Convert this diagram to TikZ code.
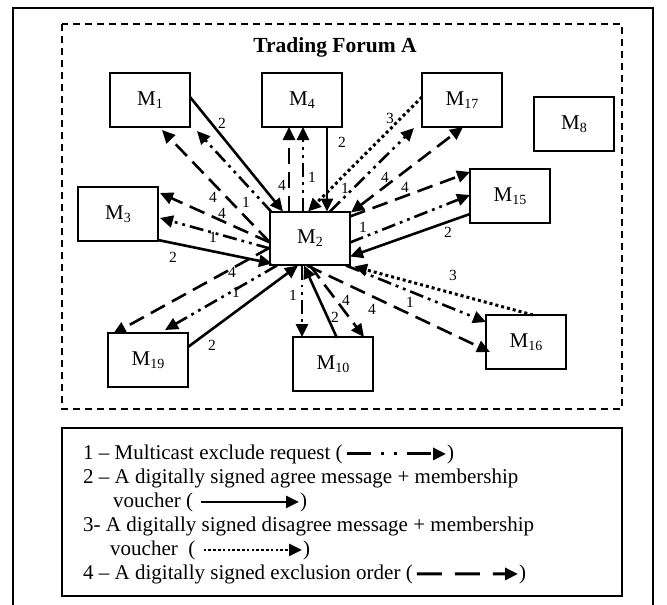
\documentclass[tikz,border=0pt]{standalone}
\usepackage{fontspec}
\setmainfont{Liberation Serif}
\usetikzlibrary{arrows.meta,calc}

% member name with a lowered, smaller index
\newcommand\Msub[1]{M\raisebox{-3pt}{\fontsize{14}{14}\selectfont #1}}

\tikzset{
  >={Triangle[length=13pt,width=12pt]},
  member/.style={draw, line width=1.6pt, minimum width=80pt, minimum height=54pt,
    inner sep=0pt, font=\fontsize{21}{24}\selectfont},
  lbl/.style={font=\fontsize{15.5}{15.5}\selectfont, inner sep=0pt},
  msg/.style={line width=2.6pt, ->},
  req/.style={msg, dash pattern=on 14pt off 5pt on 2.8pt off 5pt on 2.8pt off 5pt},
  agree/.style={msg},
  disagree/.style={msg, line width=3pt, dash pattern=on 3pt off 3pt},
  excl/.style={msg, dash pattern=on 16pt off 8pt},
  legtext/.style={font=\fontsize{21}{24}\selectfont, inner sep=0pt, anchor=base west},
}

\begin{document}
\begin{tikzpicture}[x=1pt,y=-1pt]
  \fill[white] (0,0) rectangle (667,605);
  \useasboundingbox (0,0) rectangle (667,605);

  % outer frame, open at the bottom edge
  \draw[line width=1.4pt] (13,605) -- (13,8) -- (653,8) -- (653,605);
  % forum boundary
  \draw[line width=1.5pt, dash pattern=on 7pt off 5pt] (62,24) rectangle (622,409);
  \node[font=\fontsize{21.5}{24}\selectfont\bfseries] (title) at (335,47) {Trading Forum A};

  % members
  \node[member] (M1)  at (150,100) {\Msub{1}};
  \node[member] (M4)  at (302,100) {\Msub{4}};
  \node[member] (M17) at (462,100) {\Msub{17}};
  \node[member] (M8)  at (574,124) {\Msub{8}};
  \node[member] (M3)  at (118,214) {\Msub{3}};
  \node[member, minimum height=53pt] (M2) at (310,238.5) {\Msub{2}};
  \node[member] (M15) at (510,196) {\Msub{15}};
  \node[member] (M19) at (148,360) {\Msub{19}};
  \node[member] (M10) at (333,364) {\Msub{10}};
  \node[member] (M16) at (526,342) {\Msub{16}};

  % M1
  \draw[agree] ($(M1)+(40,-3)$) -- ($(M2)+(-27,-27)$);
  \draw[req]   ($(M2)+(-38,-26)$) -- ($(M1)+(47,31)$);
  \draw[excl]  ($(M2)+(-40,4)$) -- ($(M1)+(12,30)$);
  % M3
  \draw[excl]  ($(M2)+(-40,4)$) -- ($(M3)+(42,-21)$);
  \draw[req]   ($(M2)+(-40,10)$) -- ($(M3)+(42,4)$);
  \draw[agree] ($(M3)+(40,26)$) -- ($(M2)+(-38,25)$);
  % M4
  \draw[excl]  ($(M2)+(-21,-27)$) -- ($(M4)+(-13,27)$);
  \draw[req]   ($(M2)+(-7,-27)$) -- ($(M4)+(1,27)$);
  \draw[agree] ($(M4)+(25,27)$) -- ($(M2)+(17,-27)$);
  % M17
  \draw[disagree] ($(M17)+(-40,-3)$) -- ($(M2)+(-2,-27)$);
  \draw[req]   ($(M2)+(20,-27)$) -- ($(M17)+(-48,28)$);
  \draw[excl, <->] ($(M2)+(41,-26)$) -- ($(M17)+(1,27)$);
  % M15
  \draw[excl]  ($(M2)+(40,-22)$) -- ($(M15)+(-40,-24)$);
  \draw[req]   ($(M2)+(40,4)$) -- ($(M15)+(-40,-1)$);
  \draw[agree] ($(M15)+(-40,18)$) -- ($(M2)+(40,18)$);
  % M16
  \draw[disagree] ($(M16)+(7,-27)$) -- ($(M2)+(44,28)$);
  \draw[req]   ($(M2)+(36,27)$) -- ($(M16)+(-40,-20)$);
  \draw[excl]  ($(M2)+(-3,27)$) -- ($(M16)+(-36,10)$);
  % M10
  \draw[excl]  ($(M2)+(0,27)$) -- ($(M10)+(31,-27)$);
  \draw[req]   ($(M2)+(-8,27)$) -- ($(M10)+(-31,-27)$);
  \draw[agree] ($(M10)+(4,-26)$) -- ($(M2)+(-6,27)$);
  % M19
  \draw[excl]  ($(M2)+(-40,9)$) -- ($(M19)+(-35,-26)$);
  \draw[req]   ($(M2)+(-33,27)$) -- ($(M19)+(17,-30)$);
  \draw[agree] ($(M19)+(40,-13)$) -- ($(M2)+(-12,27)$);

  % message numbers
  \node[lbl] (t1)  at (222,123) {2};
  \node[lbl] (t2)  at (246,202) {1};
  \node[lbl] (t3)  at (213,197) {4};
  \node[lbl] (t4)  at (222,213) {4};
  \node[lbl] (t5)  at (213,237) {1};
  \node[lbl] (t6)  at (173,257) {2};
  \node[lbl] (t7)  at (282,185) {4};
  \node[lbl] (t8)  at (312,177) {1};
  \node[lbl] (t9)  at (342,142) {2};
  \node[lbl] (t10) at (390,118) {3};
  \node[lbl] (t11) at (345,188) {1};
  \node[lbl] (t12) at (385,177) {4};
  \node[lbl] (t13) at (405,187) {4};
  \node[lbl] (t14) at (363,227) {1};
  \node[lbl] (t15) at (448,232) {2};
  \node[lbl] (t16) at (453,275) {3};
  \node[lbl] (t17) at (410,302) {1};
  \node[lbl] (t18) at (372,309) {4};
  \node[lbl] (t19) at (346,300) {4};
  \node[lbl] (t20) at (293,295) {1};
  \node[lbl] (t21) at (335,317) {2};
  \node[lbl] (t22) at (232,272) {4};
  \node[lbl] (t23) at (236,292) {1};
  \node[lbl] (t24) at (212,345) {2};

  % legend
  \draw[line width=1.8pt] (62,428) rectangle (622,596);
  \node[legtext] (L1) at (83,459) {1 -- Multicast exclude request (};
  \node[legtext] (R1) at (447,459) {)};
  \draw[msg, line width=3pt, dash pattern=on 24pt off 10pt on 3pt off 10pt on 3pt off 10pt]
    ([xshift=4pt]L1.east) -- ([xshift=-1pt]R1.west);
  \node[legtext] (L2) at (83,483) {2 -- A digitally signed agree message + membership};
  \node[legtext] (L3) at (113,507) {voucher (};
  \node[legtext] (R3) at (300,507) {)};
  \draw[agree] ([xshift=8pt]L3.east) -- ([xshift=-1pt]R3.west);
  \node[legtext] (L4) at (83,531) {3- A digitally signed disagree message + membership};
  \node[legtext] (L5) at (110,555) {voucher\ \ (};
  \node[legtext] (R5) at (303,555) {)};
  \draw[disagree, line width=2.6pt, dash pattern=on 2.6pt off 2.2pt]
    ([xshift=8pt]L5.east) -- ([xshift=-1pt]R5.west);
  \node[legtext] (L6) at (83,579) {4 -- A digitally signed exclusion order (};
  \node[legtext] (R6) at (519,579) {)};
  \draw[msg, line width=3pt, dash pattern=on 25pt off 13pt]
    ([xshift=4pt]L6.east) -- ([xshift=-1pt]R6.west);
\end{tikzpicture}
\end{document}
